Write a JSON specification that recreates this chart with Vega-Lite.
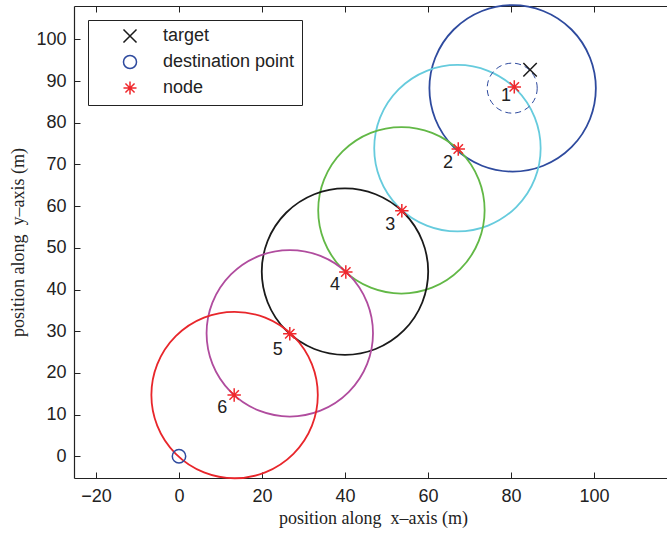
{
  "$schema": "https://vega.github.io/schema/vega-lite/v6.json",
  "width": 593,
  "height": 472,
  "autosize": {"type": "none"},
  "padding": {"left": 74, "top": 6, "right": 0, "bottom": 55},
  "background": "white",
  "config": {
    "view": {"stroke": null},
    "axis": {
      "grid": false,
      "domainColor": "#222",
      "tickColor": "#222",
      "labelColor": "#222",
      "titleColor": "#222",
      "labelFont": "Liberation Sans",
      "labelFontSize": 18,
      "titleFont": "Liberation Serif",
      "titleFontSize": 18,
      "titleFontWeight": "normal",
      "tickSize": -6,
      "domainWidth": 1.2,
      "tickWidth": 1,
      "labelFlush": false
    }
  },
  "datasets": {
    "circles": [
      {"id": "1", "x": 80.4, "y": 88.25},
      {"id": "2", "x": 67.1, "y": 73.9},
      {"id": "3", "x": 53.6, "y": 59.0},
      {"id": "4", "x": 40.0, "y": 44.3},
      {"id": "5", "x": 26.7, "y": 29.5},
      {"id": "6", "x": 13.4, "y": 14.7}
    ],
    "markers": [
      {"kind": "target", "x": 84.6, "y": 92.7},
      {"kind": "destination point", "x": 0, "y": 0},
      {"kind": "node", "x": 80.8, "y": 88.6},
      {"kind": "node", "x": 67.3, "y": 73.7},
      {"kind": "node", "x": 53.7, "y": 58.9},
      {"kind": "node", "x": 40.2, "y": 44.2},
      {"kind": "node", "x": 26.7, "y": 29.4},
      {"kind": "node", "x": 13.3, "y": 14.7}
    ],
    "ring": [
      {"x": 80.3, "y": 88.3}
    ],
    "labels": [
      {"t": "1", "x": 78.8, "y": 86.3},
      {"t": "2", "x": 64.8, "y": 70.4},
      {"t": "3", "x": 50.9, "y": 55.4},
      {"t": "4", "x": 37.6, "y": 41.1},
      {"t": "5", "x": 23.8, "y": 25.6},
      {"t": "6", "x": 10.4, "y": 11.7}
    ]
  },
  "layer": [
    {
      "layer": [
        {
          "data": {"name": "circles"},
          "mark": {"type": "point", "filled": false, "size": 27700, "strokeWidth": 1.8, "opacity": 1},
          "encoding": {
            "x": {
              "field": "x", "type": "quantitative",
              "scale": {"domain": [-25.3, 117.6], "nice": false, "zero": false},
              "axis": {
                "orient": "bottom",
                "values": [-20, 0, 20, 40, 60, 80, 100],
                "labelPadding": 15,
                "title": "position along\u00a0 x–axis (m)",
                "titlePadding": 4,
                "titleX": 299
              }
            },
            "y": {
              "field": "y", "type": "quantitative",
              "scale": {"domain": [-5.2, 108], "nice": false, "zero": false},
              "axis": {
                "values": [0, 10, 20, 30, 40, 50, 60, 70, 80, 90, 100],
                "labelPadding": 14,
                "title": "position along\u00a0 y–axis (m)",
                "titlePadding": 8
              }
            },
            "stroke": {
              "field": "id", "type": "nominal",
              "scale": {"domain": ["1", "2", "3", "4", "5", "6"], "range": ["#2E4A9E", "#66CBDD", "#62B846", "#1A1A1A", "#B04C9E", "#E8262B"]},
              "legend": null
            }
          }
        },
        {
          "data": {"name": "ring"},
          "mark": {"type": "point", "filled": false, "size": 2500, "strokeWidth": 1, "stroke": "#2E4A9E", "strokeDash": [6, 4], "opacity": 1},
          "encoding": {
            "x": {"field": "x", "type": "quantitative"},
            "y": {"field": "y", "type": "quantitative"}
          }
        },
        {
          "data": {"name": "markers"},
          "mark": {"type": "point", "filled": false, "size": 180, "strokeWidth": 1.5, "opacity": 1},
          "encoding": {
            "x": {"field": "x", "type": "quantitative"},
            "y": {"field": "y", "type": "quantitative"},
            "color": {
              "field": "kind", "type": "nominal",
              "scale": {"domain": ["target", "destination point", "node"], "range": ["#1A1A1A", "#2E4A9E", "#F0282D"]},
              "legend": {
                "orient": "none", "legendX": 14, "legendY": 14, "title": null,
                "strokeColor": "#222", "fillColor": "white", "padding": 7,
                "symbolOffset": 26, "labelOffset": 24, "labelFont": "Liberation Sans",
                "labelFontSize": 18, "labelColor": "#222", "rowPadding": 6,
                "symbolSize": 170, "symbolStrokeWidth": 1.5, "cornerRadius": 0
              }
            },
            "shape": {
              "field": "kind", "type": "nominal",
              "scale": {"domain": ["target", "destination point", "node"], "range": ["M-1,-1L1,1M-1,1L1,-1", "circle", "M0,-1L0,1M-1,0L1,0M-0.7,-0.7L0.7,0.7M-0.7,0.7L0.7,-0.7"]},
              "legend": {
                "orient": "none", "legendX": 14, "legendY": 14, "title": null,
                "strokeColor": "#222", "fillColor": "white", "padding": 7,
                "symbolOffset": 26, "labelOffset": 24, "labelFont": "Liberation Sans",
                "labelFontSize": 18, "labelColor": "#222", "rowPadding": 6,
                "symbolSize": 170, "symbolStrokeWidth": 1.5, "cornerRadius": 0
              }
            }
          }
        }
      ]
    },
    {
      "data": {"name": "labels"},
      "mark": {"type": "text", "font": "Liberation Sans", "fontSize": 18, "color": "#222", "align": "center", "baseline": "middle"},
      "encoding": {
        "x": {
          "field": "x", "type": "quantitative",
          "axis": {"orient": "top", "labels": false, "title": null, "values": [-20, 0, 20, 40, 60, 80, 100]}
        },
        "y": {"field": "y", "type": "quantitative"},
        "text": {"field": "t"}
      }
    }
  ],
  "resolve": {"axis": {"x": "independent"}}
}
